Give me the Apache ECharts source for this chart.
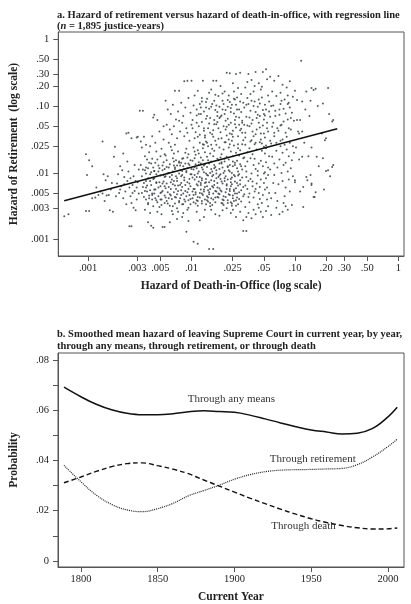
<!DOCTYPE html>
<html><head><meta charset="utf-8">
<script src="https://cdn.jsdelivr.net/npm/echarts@6/dist/echarts.min.js"></script>
<style>html,body{margin:0;padding:0;background:#fff}#c{width:411px;height:604px}</style>
</head><body><div id="c"></div>
<script>
// Panel a: log10(hazard of death-in-office), log10(hazard of retirement) (sample of justice-years)
const justiceYearsLog = [
[-3.23,-2.65],[-3.19,-2.62],[-3.02,-1.72],[-3.02,-2.57],[-3.01,-2.03],
[-2.99,-1.81],[-2.96,-1.90],[-2.99,-2.57],[-2.96,-2.38],[-2.93,-2.37],[-2.90,-2.33],[-2.86,-2.31],[-2.85,-2.02],[-2.86,-1.53],[-2.83,-2.11],
[-2.82,-2.34],[-2.79,-2.56],[-2.76,-2.58],[-2.80,-2.33],[-2.88,-2.28],[-2.78,-2.25],[-2.84,-2.42],[-2.77,-2.15],[-2.92,-2.22],[-2.81,-2.05],
[-2.74,-1.61],[-2.75,-1.76],[-2.72,-2.16],[-2.69,-2.25],[-2.66,-1.71],[-2.65,-2.06],[-2.67,-1.96],[-2.63,-1.41],[-2.62,-1.83],[-2.60,-2.80],
[-2.58,-2.80],[-2.58,-1.48],[-2.54,-2.56],[-2.52,-1.46],[-2.53,-1.47],[-2.50,-1.07],[-2.61,-1.40],[-2.70,-2.30],[-2.68,-2.20],[-2.64,-2.28],
[-2.62,-2.12],[-2.60,-2.22],[-2.59,-2.35],[-2.57,-2.18],[-2.56,-2.05],[-2.55,-2.27],[-2.53,-2.40],[-2.52,-2.14],[-2.51,-1.95],[-2.73,-2.35],
[-2.71,-2.02],[-2.66,-2.38],[-2.63,-2.47],[-2.58,-2.45],[-2.55,-1.88],[-2.53,-2.22],[-2.61,-1.98],[-2.57,-2.30],[-2.51,-2.31],[-2.65,-2.17],
[-2.59,-2.08],[-2.54,-2.12],[-2.69,-1.90],[-2.56,-2.52],
[-2.47,-1.07],[-2.36,-1.13],[-2.37,-1.17],[-2.33,-1.21],[-2.49,-1.53],[-2.42,-2.74],[-2.39,-2.79],[-2.37,-2.82],[-2.26,-2.81],[-2.28,-2.81],
[-2.48,-1.62],[-2.45,-1.75],[-2.44,-1.58],[-2.41,-1.69],[-2.38,-1.45],[-2.35,-1.55],[-2.31,-1.38],[-2.29,-1.64],[-2.27,-1.50],[-2.26,-1.72],
[-2.49,-1.88],[-2.48,-2.05],[-2.47,-2.21],[-2.46,-2.36],[-2.45,-1.96],[-2.44,-2.12],[-2.43,-2.28],[-2.42,-2.45],[-2.41,-1.85],[-2.40,-2.02],
[-2.39,-2.18],[-2.38,-2.33],[-2.37,-1.92],[-2.36,-2.08],[-2.35,-2.25],[-2.34,-2.41],[-2.33,-1.80],[-2.32,-1.98],[-2.31,-2.14],[-2.30,-2.30],
[-2.29,-2.48],[-2.28,-1.89],[-2.27,-2.03],[-2.26,-2.20],[-2.25,-2.37],[-2.48,-2.30],[-2.46,-2.15],[-2.44,-1.92],[-2.42,-2.08],[-2.40,-2.26],
[-2.38,-2.40],[-2.36,-1.97],[-2.34,-2.14],[-2.32,-2.22],[-2.30,-2.04],[-2.28,-2.16],[-2.26,-1.94],[-2.45,-2.55],[-2.40,-2.60],[-2.33,-2.58],
[-2.29,-2.62],[-2.43,-1.80],[-2.39,-1.99],[-2.35,-1.85],[-2.31,-1.93],[-2.27,-1.84],[-2.47,-1.95],[-2.41,-2.38],[-2.37,-2.50],[-2.32,-2.35],
[-2.28,-2.27],[-2.26,-2.45],[-2.44,-2.22],[-2.36,-2.31],[-2.30,-2.40],[-2.34,-1.68],[-2.40,-1.60],[-2.46,-1.46],[-2.30,-1.75],[-2.27,-1.30],
[-2.25,-0.92],[-2.07,-0.63],[-2.04,-0.62],[-2.16,-0.77],[-2.12,-0.77],[-2.23,-1.05],[-2.20,-1.12],[-2.18,-0.98],[-2.15,-1.20],[-2.13,-1.08],
[-2.10,-0.95],[-2.08,-1.15],[-2.06,-1.02],[-2.03,-0.88],[-2.01,-1.10],[-2.24,-1.28],[-2.21,-1.35],[-2.19,-1.42],[-2.17,-1.30],[-2.14,-1.48],
[-2.11,-1.38],[-2.09,-1.25],[-2.07,-1.45],[-2.05,-1.33],[-2.02,-1.52],[-2.22,-1.55],[-2.16,-1.58],[-2.12,-1.22],[-2.04,-1.40],[-2.00,-1.28],
[-2.21,-1.87],[-2.08,-2.31],[-2.15,-2.05],[-2.03,-1.72],[-2.24,-2.42],[-2.11,-1.96],[-2.06,-2.18],[-2.19,-1.66],[-2.01,-2.47],[-2.13,-2.27],
[-2.17,-2.12],[-2.04,-1.93],[-2.22,-2.21],[-2.09,-1.79],[-2.14,-2.53],[-2.02,-2.09],[-2.18,-1.98],[-2.07,-2.40],[-2.25,-1.74],[-2.10,-2.15],
[-2.05,-1.64],[-2.20,-2.34],[-2.12,-1.83],[-2.16,-2.46],[-2.03,-2.24],[-2.23,-2.01],[-2.08,-1.90],[-2.19,-2.57],[-2.01,-1.81],[-2.14,-2.08],
[-2.11,-2.38],[-2.06,-1.70],[-2.22,-1.92],[-2.17,-2.29],[-2.04,-2.55],[-2.09,-2.03],[-2.24,-2.16],[-2.13,-1.68],[-2.02,-2.33],[-2.18,-1.78],
[-2.07,-2.11],[-2.15,-2.37],[-2.21,-2.49],[-2.05,-1.99],[-2.10,-1.85],[-2.16,-1.94],[-2.01,-2.20],[-2.23,-2.29],[-2.12,-2.44],[-2.08,-2.60],
[-2.19,-2.10],[-2.04,-1.77],[-2.14,-1.89],[-2.06,-2.27],[-2.25,-2.05],[-2.11,-2.18],[-2.17,-1.71],[-2.03,-2.41],[-2.20,-2.24],[-2.09,-1.97],
[-2.13,-2.58],[-2.02,-1.88],[-2.22,-2.38],[-2.07,-2.07],[-2.15,-1.81],[-2.18,-2.50],[-2.05,-2.35],[-2.10,-2.26],[-2.24,-1.91],[-2.01,-2.02],
[-2.16,-2.19],[-2.12,-2.01],[-2.06,-1.86],[-2.20,-1.61],[-2.04,-2.14],[-2.14,-2.32],[-2.09,-2.47],[-2.21,-2.06],[-2.17,-1.89],[-2.03,-2.52],
[-2.14,-2.69],[-2.21,-2.74],[-2.05,-2.88],[-2.18,-2.62],[-2.09,-2.66],[-2.03,-2.72],
[-2.00,-0.62],[-1.83,-0.80],[-1.89,-0.62],[-1.79,-0.62],[-1.76,-0.62],[-1.81,-0.75],[-1.85,-0.89],
[-1.97,-0.84],[-1.92,-0.97],[-1.88,-1.08],[-1.95,-1.14],[-1.78,-0.92],[-1.86,-1.02],[-1.99,-1.21],[-1.82,-1.18],[-1.93,-1.30],
[-1.77,-1.06],[-1.90,-1.24],[-1.84,-1.33],[-1.96,-1.39],[-1.80,-1.42],[-1.87,-1.47],[-1.98,-0.99],[-1.76,-1.27],[-1.91,-1.12],
[-1.94,-0.77],[-1.79,-1.36],[-1.86,-0.94],[-1.83,-1.26],[-1.97,-1.48],[-1.88,-1.37],[-1.75,-1.15],[-1.81,-1.01],[-1.92,-1.43],
[-1.95,-1.05],[-1.78,-1.21],[-1.85,-1.15],[-1.99,-1.33],[-1.90,-0.88],[-1.77,-0.83],
[-1.98,-1.62],[-1.86,-2.09],[-1.93,-1.84],[-1.79,-2.31],[-1.95,-2.17],[-1.82,-1.71],[-1.90,-2.42],[-1.76,-1.96],[-1.88,-1.58],[-1.97,-2.03],
[-1.84,-2.26],[-1.91,-1.77],[-1.78,-2.12],[-1.99,-2.38],[-1.85,-1.91],[-1.94,-2.49],[-1.80,-1.64],[-1.87,-2.21],[-1.96,-1.73],[-1.77,-2.44],
[-1.92,-2.06],[-1.83,-1.86],[-1.89,-2.33],[-1.75,-1.79],[-1.98,-1.95],[-1.81,-2.38],[-1.94,-1.66],[-1.86,-2.47],[-1.79,-2.03],[-1.91,-2.25],
[-1.84,-1.60],[-1.96,-2.29],[-1.78,-1.88],[-1.88,-1.99],[-1.93,-2.13],[-1.80,-2.20],[-1.99,-1.82],[-1.85,-2.35],[-1.76,-2.08],[-1.90,-1.92],
[-1.82,-2.50],[-1.97,-2.10],[-1.87,-1.69],[-1.79,-1.75],[-1.95,-2.41],[-1.83,-2.14],[-1.92,-1.55],[-1.77,-2.27],[-1.89,-1.81],[-1.98,-2.24],
[-1.81,-1.94],[-1.86,-2.01],[-1.94,-2.36],[-1.78,-1.67],[-1.91,-2.18],[-1.84,-2.43],[-1.96,-1.87],[-1.75,-2.36],[-1.88,-2.28],[-1.80,-2.05],
[-1.93,-1.98],[-1.85,-1.76],[-1.99,-2.07],[-1.77,-1.91],[-1.90,-2.46],[-1.82,-2.24],[-1.97,-1.78],[-1.87,-2.15],[-1.79,-2.40],[-1.94,-2.01],
[-1.76,-1.58],[-1.89,-1.63],[-1.83,-2.32],[-1.95,-1.93],[-1.81,-1.83],[-1.98,-2.33],[-1.86,-1.53],[-1.92,-2.30],[-1.78,-2.18],[-1.84,-2.04],
[-1.90,-2.11],[-1.96,-2.46],[-1.80,-2.48],[-1.88,-1.89],[-1.75,-2.22],[-1.93,-1.71],[-1.85,-2.41],[-1.97,-1.68],[-1.82,-2.00],[-1.91,-1.86],
[-1.98,-3.03],[-1.94,-3.06],[-1.83,-3.14],[-1.79,-3.14],[-1.95,-2.58],[-1.88,-2.66],[-1.81,-2.55],[-1.92,-2.71],[-1.77,-2.62],[-1.87,-2.55],
[-1.66,-0.50],[-1.63,-0.51],[-1.53,-0.50],[-1.57,-0.52],[-1.72,-0.70],[-1.68,-0.78],[-1.60,-0.66],[-1.55,-0.73],[-1.74,-0.85],[-1.70,-0.92],
[-1.64,-0.84],[-1.58,-0.90],[-1.52,-0.82],[-1.73,-1.01],[-1.67,-1.06],[-1.61,-0.98],[-1.56,-1.05],[-1.50,-0.95],[-1.71,-1.14],[-1.65,-1.19],
[-1.59,-1.11],[-1.54,-1.17],[-1.75,-1.24],[-1.69,-1.30],[-1.62,-1.25],[-1.57,-1.32],[-1.51,-1.22],[-1.72,-1.39],[-1.66,-1.44],[-1.60,-1.37],
[-1.55,-1.45],[-1.74,-1.49],[-1.68,-1.12],[-1.63,-0.94],[-1.58,-1.21],[-1.53,-1.36],[-1.70,-0.81],[-1.65,-1.01],[-1.61,-1.42],[-1.56,-0.87],
[-1.52,-1.09],[-1.73,-1.18],[-1.67,-1.35],[-1.62,-1.09],[-1.57,-0.98],[-1.54,-1.28],[-1.69,-0.97],[-1.64,-1.28],[-1.59,-0.78],[-1.51,-1.40],
[-1.73,-1.62],[-1.61,-2.07],[-1.68,-1.83],[-1.54,-2.29],[-1.70,-2.16],[-1.57,-1.70],[-1.65,-2.41],[-1.51,-1.95],[-1.63,-1.57],[-1.72,-2.02],
[-1.59,-2.25],[-1.66,-1.76],[-1.53,-2.11],[-1.74,-2.37],[-1.60,-1.90],[-1.69,-2.48],[-1.55,-1.63],[-1.62,-2.20],[-1.71,-1.72],[-1.52,-2.43],
[-1.67,-2.05],[-1.58,-1.85],[-1.64,-2.32],[-1.50,-1.78],[-1.73,-1.94],[-1.56,-2.37],[-1.69,-1.65],[-1.61,-2.46],[-1.54,-2.02],[-1.66,-2.24],
[-1.59,-1.59],[-1.71,-2.28],[-1.53,-1.87],[-1.63,-1.98],[-1.68,-2.12],[-1.55,-2.19],[-1.74,-1.81],[-1.60,-2.34],[-1.51,-2.07],[-1.65,-1.91],
[-1.57,-2.49],[-1.72,-2.09],[-1.62,-1.68],[-1.54,-1.74],[-1.70,-2.40],[-1.58,-2.13],[-1.67,-1.54],[-1.52,-2.26],[-1.64,-1.80],[-1.73,-2.23],
[-1.56,-1.93],[-1.61,-2.00],[-1.69,-2.35],[-1.53,-1.66],[-1.66,-2.17],[-1.59,-2.42],[-1.71,-1.86],[-1.50,-2.35],[-1.63,-2.27],[-1.55,-2.04],
[-1.68,-1.97],[-1.60,-1.75],[-1.74,-2.06],[-1.52,-1.90],[-1.65,-2.45],[-1.57,-2.23],[-1.72,-1.77],[-1.62,-2.14],[-1.54,-2.39],[-1.69,-2.00],
[-1.51,-1.57],[-1.64,-1.62],[-1.58,-2.31],[-1.70,-1.92],[-1.56,-1.82],[-1.73,-2.32],[-1.61,-1.52],[-1.67,-2.29],[-1.53,-2.17],[-1.59,-2.03],
[-1.65,-2.10],[-1.71,-2.45],[-1.55,-2.47],[-1.63,-1.88],[-1.50,-2.21],
[-1.50,-2.87],[-1.47,-2.87],[-1.50,-2.71],[-1.62,-2.60],[-1.70,-2.56],[-1.57,-2.66],[-1.66,-2.53],[-1.53,-2.58],[-1.73,-2.64],[-1.60,-2.55],
[-1.38,-0.49],[-1.31,-0.49],[-1.28,-0.45],[-1.45,-0.52],[-1.42,-0.61],[-1.35,-0.66],[-1.27,-0.60],[-1.48,-0.72],[-1.40,-0.78],[-1.33,-0.75],
[-1.26,-0.84],[-1.46,-0.88],[-1.39,-0.93],[-1.32,-0.87],[-1.29,-0.98],[-1.49,-1.02],[-1.43,-1.07],[-1.36,-1.01],[-1.30,-1.12],[-1.47,-1.16],
[-1.41,-1.21],[-1.34,-1.15],[-1.27,-1.25],[-1.44,-1.30],[-1.37,-1.35],[-1.31,-1.29],[-1.48,-1.40],[-1.40,-1.45],[-1.33,-1.41],[-1.26,-1.38],
[-1.45,-0.97],[-1.38,-1.09],[-1.32,-0.71],[-1.42,-1.26],[-1.35,-0.90],[-1.29,-1.47],[-1.46,-0.64],[-1.37,-1.18],[-1.28,-1.05],[-1.43,-0.82],
[-1.34,-1.32],[-1.25,-0.93],[-1.49,-1.28],[-1.39,-0.70],[-1.30,-1.20],
[-1.48,-1.58],[-1.36,-2.04],[-1.43,-1.78],[-1.29,-2.25],[-1.45,-2.12],[-1.32,-1.67],[-1.40,-2.37],[-1.26,-1.92],[-1.38,-1.55],[-1.47,-1.98],
[-1.34,-2.21],[-1.41,-1.72],[-1.28,-2.08],[-1.49,-2.32],[-1.35,-1.86],[-1.44,-2.44],[-1.30,-1.61],[-1.37,-2.16],[-1.46,-1.69],[-1.27,-2.40],
[-1.42,-2.01],[-1.33,-1.82],[-1.39,-2.28],[-1.25,-1.75],[-1.48,-1.90],[-1.31,-2.33],[-1.44,-1.63],[-1.36,-2.47],[-1.29,-1.99],[-1.41,-2.20],
[-1.34,-1.54],[-1.46,-2.24],[-1.28,-1.84],[-1.38,-1.94],[-1.43,-2.09],[-1.30,-2.15],[-1.49,-1.77],[-1.35,-2.30],[-1.26,-2.03],[-1.40,-1.88],
[-1.32,-2.45],[-1.47,-2.06],[-1.37,-1.65],[-1.29,-1.71],[-1.45,-2.36],[-1.33,-2.10],[-1.42,-1.51],[-1.27,-2.22],[-1.39,-1.79],[-1.48,-2.19],
[-1.31,-1.90],[-1.36,-1.97],[-1.44,-2.31],[-1.28,-1.63],[-1.41,-2.13],[-1.34,-2.39],[-1.46,-1.83],[-1.25,-2.30],[-1.38,-2.24],[-1.30,-2.01],
[-1.31,-2.66],[-1.23,-2.63],[-1.40,-2.55],[-1.45,-2.60],[-1.35,-2.52],[-1.28,-2.57],[-1.48,-2.51],[-1.38,-2.62],[-1.26,-2.50],[-1.42,-2.68],[-1.33,-2.58],[-1.47,-2.66],
[-1.24,-0.56],[-1.20,-0.62],[-1.16,-0.55],[-1.12,-0.68],[-1.08,-0.72],[-1.05,-0.63],[-1.22,-0.78],[-1.18,-0.85],[-1.14,-0.80],[-1.10,-0.90],
[-1.06,-0.95],[-1.02,-0.86],[-1.23,-1.00],[-1.19,-1.07],[-1.15,-1.13],[-1.11,-1.04],[-1.07,-1.20],[-1.03,-1.10],[-1.21,-1.25],[-1.17,-1.33],
[-1.13,-1.28],[-1.09,-1.40],[-1.04,-1.35],[-1.01,-1.22],[-1.20,-1.45],[-1.14,-0.97],[-1.24,-1.16],[-0.94,-0.32],[-1.00,-0.77],[-1.07,-0.84],
[-1.23,-1.56],[-1.17,-1.92],[-1.12,-1.70],[-1.06,-2.10],[-1.20,-2.03],[-1.14,-1.60],[-1.09,-2.22],[-1.03,-1.81],[-1.22,-1.76],[-1.16,-2.17],
[-1.11,-1.88],[-1.05,-1.55],[-1.19,-2.30],[-1.13,-2.00],[-1.08,-1.65],[-1.02,-2.05],[-1.24,-1.95],[-1.18,-1.67],[-1.10,-2.35],[-1.04,-1.93],
[-1.21,-2.15],[-1.15,-1.80],[-1.07,-1.98],[-1.01,-1.70],[-1.23,-2.38],[-1.12,-2.12],[-1.06,-1.75],[-1.17,-2.42],[-1.09,-1.85],[-1.00,-2.14],
[-1.14,-1.52],[-1.20,-1.86],[-1.05,-2.28],[-1.11,-2.45],[-1.02,-1.60],
[-1.12,-2.58],[-1.07,-2.55],[-1.18,-2.52],[-1.03,-2.48],[-1.15,-2.62],[-1.09,-2.50],
[-0.82,-0.76],[-0.89,-0.78],[-0.84,-0.73],[-0.80,-0.74],[-0.93,-0.93],[-0.85,-0.92],[-0.98,-0.91],[-0.95,-1.21],[-0.98,-1.21],[-0.97,-1.38],
[-0.93,-1.38],[-0.96,-1.41],[-0.74,-1.41],[-0.70,-1.48],[-0.84,-1.62],[-0.87,-1.75],[-0.79,-1.76],[-0.73,-1.78],[-0.93,-1.76],[-0.96,-1.80],
[-0.85,-2.03],[-0.89,-2.06],[-1.00,-2.11],[-0.88,-2.11],[-0.84,-2.16],[-0.84,-2.18],[-0.92,-2.21],[-0.95,-2.28],[-0.81,-2.36],[-0.82,-2.36],
[-0.80,-2.29],[-0.92,-2.51],[-0.90,-1.05],[-0.86,-1.15],[-0.78,-1.00],[-0.91,-1.55],[-0.77,-1.90],[-0.99,-1.62],
[-0.63,-1.21],[-0.64,-1.23],[-0.68,-0.73],[-0.63,-1.88],[-0.68,-1.96],[-0.70,-1.97],[-0.64,-1.91],[-0.71,-1.51],[-0.66,-2.05],[-0.72,-2.25],[-0.67,-1.12],[-0.73,-0.96],
[-2.43,-2.19],[-2.17,-1.83],[-1.92,-2.37],[-1.68,-2.08],[-2.31,-2.51],[-2.05,-1.97],[-1.79,-2.22],[-1.58,-1.88],[-2.38,-1.79],[-2.12,-2.42],
[-1.86,-2.14],[-1.63,-2.33],[-2.26,-2.06],[-1.99,-2.28],[-1.73,-1.86],[-2.41,-2.34],[-2.15,-2.24],[-1.89,-1.95],[-1.61,-2.49],[-2.34,-2.02],
[-2.08,-1.78],[-1.82,-2.45],[-1.56,-2.15],[-2.29,-2.29],[-2.02,-2.16],[-1.76,-2.01],[-2.44,-2.01],[-2.19,-2.39],[-1.94,-2.19],[-1.69,-2.41],
[-2.36,-2.25],[-2.10,-2.05],[-1.84,-1.81],[-1.59,-2.27],[-2.23,-2.46],[-1.97,-1.91],[-1.71,-2.13],[-2.40,-2.12],[-2.13,-2.19],[-1.87,-2.40],
[-1.64,-1.96],[-2.32,-1.89],[-2.06,-2.43],[-1.80,-1.98],[-1.57,-2.41],[-2.27,-2.13],[-2.00,-2.02],[-1.74,-2.31],[-2.42,-2.47],[-2.16,-1.92],
[-1.90,-2.08],[-1.66,-2.19],[-2.35,-2.38],[-2.09,-2.21],[-1.83,-2.29],[-1.60,-1.83],[-2.24,-1.81],[-1.98,-2.44],[-1.72,-2.26],[-2.39,-1.86],
[-2.14,-2.12],[-1.88,-2.25],[-1.62,-2.09],[-2.30,-2.20],[-2.04,-2.29],[-1.78,-1.93],[-1.55,-1.98],[-2.21,-2.32],[-1.95,-2.06],[-1.70,-2.46],
[-2.37,-2.09],[-2.11,-1.89],[-1.85,-2.03],[-1.63,-2.24],[-2.28,-1.96],[-2.01,-2.39],[-1.75,-2.15],[-2.45,-2.27],[-2.18,-2.17],[-1.93,-1.88],
[-1.67,-2.36],[-2.33,-2.44],[-2.07,-1.94],[-1.81,-2.11],[-1.58,-2.05],[-2.25,-2.23],[-1.96,-2.32],[-1.71,-1.84],[-2.42,-1.93],[-2.16,-2.36],
[-1.91,-2.15],[-1.65,-1.90],[-2.34,-2.15],[-2.08,-2.47],[-1.84,-2.37],[-1.60,-2.38],[-2.22,-2.00],[-1.97,-2.24],[-1.73,-2.04],[-2.38,-2.31],
[-2.12,-1.85],[-1.87,-1.87],[-1.62,-2.44],[-2.29,-2.40],[-2.03,-1.86],[-1.77,-2.37],[-1.56,-2.31],[-2.20,-2.14],[-1.94,-2.42],[-1.68,-1.79],
[-2.36,-1.97],[-2.10,-2.33],[-1.85,-2.20],[-1.61,-2.17],[-2.26,-2.34],[-2.00,-1.94],[-1.76,-2.28],[-2.44,-2.40],[-2.19,-2.03],[-1.90,-2.31],
[-1.93,-1.12],[-1.71,-1.48],[-1.47,-0.98],[-1.22,-1.31],[-1.85,-1.55],[-1.62,-1.03],[-1.38,-1.42],[-1.13,-0.92],[-1.78,-1.27],[-1.55,-1.57],
[-1.31,-1.06],[-1.08,-1.46],[-1.90,-0.93],[-1.67,-1.22],[-1.43,-1.53],[-1.19,-1.15],[-1.82,-1.40],[-1.59,-0.89],[-1.35,-1.25],[-1.10,-1.58],
[-1.75,-1.09],[-1.52,-1.34],[-1.28,-1.59],[-1.05,-1.02],[-1.88,-1.33],[-1.64,-1.50],[-1.40,-1.00],[-1.16,-1.37],[-1.80,-0.97],[-1.57,-1.16],
[-1.33,-1.50],[-1.11,-1.23],[-1.94,-1.46],[-1.70,-1.05],[-1.46,-1.29],[-1.24,-1.52],[-1.77,-1.52],[-1.53,-0.93],[-1.29,-1.14],[-1.06,-1.33],
[-1.86,-1.19],[-1.63,-1.41],[-1.39,-1.57],[-1.15,-1.05],[-1.81,-1.58],[-1.58,-1.27],[-1.34,-0.96],[-1.12,-1.50],[-1.91,-1.02],[-1.68,-1.54],
[-1.44,-1.17],[-1.21,-0.99],[-1.74,-1.33],[-1.50,-1.51],[-1.27,-1.33],[-1.04,-1.18],[-1.87,-1.44],[-1.65,-0.91],[-1.41,-1.38],[-1.18,-1.55],
[-1.83,-1.04],[-1.60,-1.46],[-1.36,-1.13],[-1.14,-1.29],[-1.95,-1.25],[-1.72,-1.16],[-1.48,-1.47],[-1.25,-1.08],[-1.79,-1.46],[-1.54,-1.05],
[-1.30,-1.41],[-1.07,-0.97],[-1.89,-1.57],[-1.66,-1.31],[-1.42,-0.92],[-1.20,-1.40],[-1.76,-0.99],[-1.51,-1.25],[-1.32,-1.56],[-1.09,-1.11]
];
// Regression line end points (hazards)
const regDeath = [0.000588, 0.2564];
const regRetire = [0.00384, 0.0459];
// Log-axis ticks
const logTickValues = [0.001,0.003,0.005,0.01,0.025,0.05,0.1,0.2,0.3,0.5,1];
const logTickLabels = ['.001','.003','.005','.01','.025','.05','.10','.20','.30','.50','1'];

// Panel b
const years = [1789,1800,1810,1820,1830,1840,1850,1860,1870,1880,1890,1900,1910,1920,1930,1940,1950,1960,1970,1980,1990,2000,2006];
const anyMeans   = [0.0691,0.0653,0.0623,0.0601,0.0587,0.0581,0.0581,0.0585,0.0593,0.0597,0.0594,0.0591,0.0580,0.0565,0.0549,0.0534,0.0521,0.0513,0.0505,0.0508,0.0527,0.0573,0.0611];
const retirement = [0.0380,0.0315,0.0262,0.0225,0.0203,0.0196,0.0208,0.0229,0.0259,0.0280,0.0301,0.0325,0.0343,0.0355,0.0361,0.0363,0.0364,0.0366,0.0368,0.0383,0.0414,0.0455,0.0484];
const death      = [0.0311,0.0334,0.0356,0.0375,0.0387,0.0390,0.0379,0.0365,0.0347,0.0322,0.0298,0.0274,0.0250,0.0228,0.0206,0.0186,0.0168,0.0153,0.0141,0.0132,0.0127,0.0128,0.0131];
const yearTicks = [1800,1850,1900,1950,2000];
const probTicks = [0,0.01,0.02,0.03,0.04,0.05,0.06,0.07,0.08];
const probLabels = [0,0.02,0.04,0.06,0.08];
const lineLabelNames = ['Through any means','Through retirement','Through death'];
const lineLabelCoords = [[1898,0.0644],[1951,0.0407],[1945,0.0137]];

const FONT = '"Liberation Serif","Times New Roman",serif';
const INK = '#222';
const AX = '#555';
const logVals = logTickValues.map(v => Math.log10(v));
function logFmt(v){
  let best = 0, d = 1e9;
  logVals.forEach((lv,i)=>{ const dd = Math.abs(lv - v); if (dd < d){ d = dd; best = i; } });
  return logTickLabels[best];
}
function probFmt(v){ return v === 0 ? '0' : ('.0' + Math.round(v*100)); }
const axisCommon = {
  axisLine:{show:true, onZero:false, lineStyle:{color:AX, width:1}},
  splitLine:{show:false},
  nameTextStyle:{fontFamily:FONT, fontSize:11.5, fontWeight:'bold', color:INK},
};
const labelStyle = {fontFamily:FONT, fontSize:10.5, color:INK};
function labelMark(i){
  return {symbol:'circle', symbolSize:1, silent:true, itemStyle:{color:'rgba(0,0,0,0)'},
    data:[{coord:lineLabelCoords[i], name:lineLabelNames[i],
      label:{show:true, position:'inside', formatter:lineLabelNames[i], fontFamily:FONT, fontSize:11, color:'#333'}}]};
}

const chart = echarts.init(document.getElementById('c'), null, {renderer:'canvas'});
chart.setOption({
  animation:false,
  backgroundColor:'#fff',
  title:[
    {left:52, top:5, text:'a. Hazard of retirement versus hazard of death-in-office, with regression line\n({it|n} = 1,895 justice-years)',
     textStyle:{fontFamily:FONT, fontSize:10.5, fontWeight:'bold', color:INK, lineHeight:11,
       rich:{it:{fontFamily:FONT, fontSize:10.5, fontWeight:'bold', fontStyle:'italic', color:INK, lineHeight:11}}}},
    {left:52, top:324, text:'b. Smoothed mean hazard of leaving Supreme Court in current year, by year,\nthrough any means, through retirement, or through death',
     textStyle:{fontFamily:FONT, fontSize:10.5, fontWeight:'bold', color:INK, lineHeight:11.5}}
  ],
  grid:[
    {left:52, top:32, width:352, height:224, show:true, borderColor:AX, borderWidth:1, containLabel:false},
    {left:52, top:353, width:352, height:214, show:true, borderColor:AX, borderWidth:1, containLabel:false}
  ],
  xAxis:[
    Object.assign({}, axisCommon, {gridIndex:0, type:'value', min:-3.288, max:0.054,
      name:'Hazard of Death-in-Office (log scale)', nameLocation:'middle', nameGap:24,
      axisTick:{show:true, length:5, lineStyle:{color:AX}, customValues:logVals},
      axisLabel:Object.assign({customValues:logVals, formatter:logFmt, margin:7}, labelStyle)}),
    Object.assign({}, axisCommon, {gridIndex:1, type:'value', min:1785.1, max:2010.4,
      name:'Current Year', nameLocation:'middle', nameGap:24,
      axisTick:{show:true, length:5, lineStyle:{color:AX}, customValues:yearTicks},
      axisLabel:Object.assign({customValues:yearTicks, formatter:v=>String(v), margin:7}, labelStyle)})
  ],
  yAxis:[
    Object.assign({}, axisCommon, {gridIndex:0, type:'value', min:-3.244, max:0.109,
      name:'Hazard of Retirement  (log scale)', nameLocation:'middle', nameGap:38,
      axisTick:{show:true, length:5, lineStyle:{color:AX}, customValues:logVals},
      axisLabel:Object.assign({customValues:logVals, formatter:logFmt, margin:9}, labelStyle)}),
    Object.assign({}, axisCommon, {gridIndex:1, type:'value', min:-0.0024, max:0.0827,
      name:'Probability', nameLocation:'middle', nameGap:38,
      axisTick:{show:true, length:5, lineStyle:{color:AX}, customValues:probTicks},
      axisLabel:Object.assign({customValues:probLabels, formatter:probFmt, margin:9}, labelStyle)})
  ],
  series:[
    {type:'scatter', xAxisIndex:0, yAxisIndex:0, data:justiceYearsLog, symbol:'circle', symbolSize:2,
     itemStyle:{color:'#2a3636'}, silent:true},
    {type:'line', xAxisIndex:0, yAxisIndex:0, data:regDeath.map((d,i)=>[Math.log10(d), Math.log10(regRetire[i])]),
     showSymbol:false, lineStyle:{color:'#111', width:1.6}, silent:true},
    {type:'line', xAxisIndex:1, yAxisIndex:1, data:years.map((y,i)=>[y, anyMeans[i]]), smooth:0.4,
     showSymbol:false, lineStyle:{color:'#111', width:1.5}, silent:true, markPoint:labelMark(0)},
    {type:'line', xAxisIndex:1, yAxisIndex:1, data:years.map((y,i)=>[y, retirement[i]]), smooth:0.4,
     showSymbol:false, lineStyle:{color:'#222', width:1.2, type:[1,1]}, silent:true, markPoint:labelMark(1)},
    {type:'line', xAxisIndex:1, yAxisIndex:1, data:years.map((y,i)=>[y, death[i]]), smooth:0.4,
     showSymbol:false, lineStyle:{color:'#111', width:1.4, type:[5,3]}, silent:true, markPoint:labelMark(2)}
  ]
});
</script>
</body></html>
